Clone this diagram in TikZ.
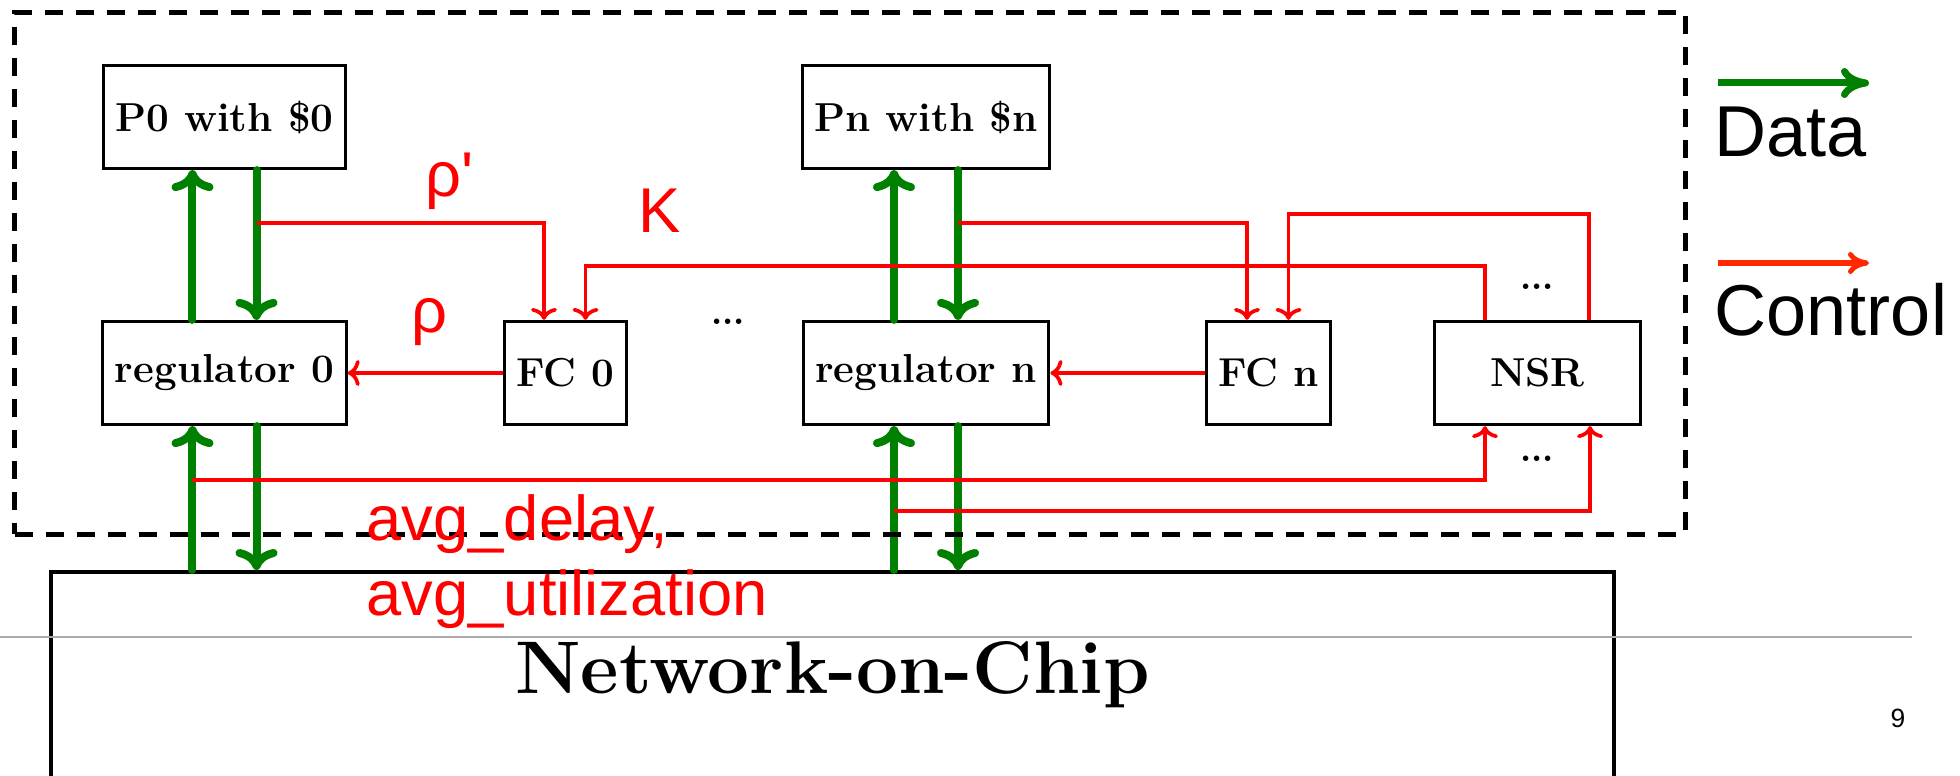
\documentclass[tikz,border=0pt]{standalone}
\usepackage{fontspec}
\usepackage{tikz}
\usetikzlibrary{arrows.meta, positioning, calc}
\newfontfamily\labelfont[Ligatures=TeXOff]{Liberation Sans}
\definecolor{datagreen}{RGB}{0,128,0}
\definecolor{ctrlred}{RGB}{255,0,0}
\definecolor{legred}{RGB}{255,40,0}
\definecolor{footgray}{RGB}{170,170,170}
\tikzset{
  block/.style={rectangle, draw=black, line width=0.9pt, inner xsep=0.12cm,
    minimum height=1.03cm, font=\fontsize{11.5}{13.8}\selectfont\bfseries},
  framebox/.style={rectangle, draw=black, line width=1.35pt,
    dash pattern=on 0.18cm off 0.13cm},
  nocbox/.style={rectangle, draw=black, line width=1.1pt},
  data/.style={-{Computer Modern Rightarrow[length=0.21cm,width=0.42cm]},
    line width=0.08cm, color=datagreen, line cap=round},
  ctrl/.style={-{Computer Modern Rightarrow[length=0.12cm,width=0.26cm]},
    line width=1.05pt, color=ctrlred},
  legdata/.style={-{Computer Modern Rightarrow[length=0.28cm,width=0.3cm]},
    line width=0.07cm, color=datagreen},
  legctrl/.style={-{Computer Modern Rightarrow[length=0.21cm,width=0.22cm]},
    line width=0.05cm, color=legred},
  ctrllabel/.style={text=ctrlred, font=\labelfont\fontsize{18}{21.3}\selectfont,
    inner sep=0pt, anchor=base},
  legtext/.style={font=\labelfont\fontsize{20.5}{24}\selectfont,
    inner sep=0pt, anchor=base west},
  dots/.style={font=\fontsize{10}{12}\selectfont\bfseries, inner sep=0pt, anchor=base}
}

\begin{document}
\begin{tikzpicture}[x=0.01cm, y=-0.01cm]
  \useasboundingbox (0,0) rectangle (1960,776);
  % processors, regulators, controllers
  \node[block] (P0) at (224.5,117) {P0 with \$0};
  \node[block] (Pn) at (926,117) {Pn with \$n};
  \node[block] (reg0) at (224.5,373) {regulator 0};
  \node[block] (regn) at (926,373) {regulator n};
  \node[block] (FC0) at (565.5,373) {FC 0};
  \node[block] (FCn) at (1268.5,373) {FC n};
  \node[block, minimum width=2.06cm] (NSR) at (1537.5,373) {NSR};
  \node[dots] (dotsmid) at (728,324) {...};
  \node[dots] (dotstop) at (1537,290) {...};
  \node[dots] (dotsbot) at (1537,461) {...};

  % network
  \node[nocbox, anchor=north, minimum width=15.62cm, minimum height=3cm] (noc) at (832.5,570) {};
  \node[font=\fontsize{21.2}{25}\selectfont\bfseries, anchor=base, inner sep=0pt] (noclbl) at (832.5,693) {Network-on-Chip};

  % data paths
  \foreach \p/\r in {P0/reg0, Pn/regn} {
    \draw[data] ([xshift=-0.32cm]\r.north) -- ([xshift=-0.32cm]\p.south);
    \draw[data] ([xshift=0.32cm]\p.south) -- ([xshift=0.32cm]\r.north);
    \draw[data] ([xshift=-0.32cm]\r.south |- noc.north) -- ([xshift=-0.32cm]\r.south);
    \draw[data] ([xshift=0.32cm]\r.south) -- ([xshift=0.32cm]\r.south |- noc.north);
  }

  \node[framebox, minimum width=16.7cm, minimum height=5.21cm] (core) at (850,273.5) {};

  % control paths
  \draw[ctrl] ([xshift=0.32cm]P0.south) ++(0,53) -| ([xshift=-0.215cm]FC0.north);
  \draw[ctrl] ([xshift=0.32cm]Pn.south) ++(0,53) -| ([xshift=-0.215cm]FCn.north);
  \draw[ctrl] ([xshift=-0.525cm]NSR.north) -- ++(0,-54) -| ([xshift=0.2cm]FC0.north);
  \draw[ctrl] ([xshift=0.515cm]NSR.north) -- ++(0,-106) -| ([xshift=0.2cm]FCn.north);
  \draw[ctrl] (FC0) -- (reg0);
  \draw[ctrl] (FCn) -- (regn);
  \draw[ctrl] ([xshift=-0.32cm]reg0.south) ++(0,54) -| ([xshift=-0.525cm]NSR.south);
  \draw[ctrl] ([xshift=-0.32cm]regn.south) ++(0,85) -| ([xshift=0.525cm]NSR.south);

  \node[ctrllabel] (rhop) at (450,197) {ρ'};
  \node[ctrllabel] (kay) at (660,232) {K};
  \node[ctrllabel] (rho) at (430,332) {ρ};
  \node[ctrllabel, anchor=base west, align=left] (avg) at (366,615) {avg\_delay,\\avg\_utilization};

  % legend
  \coordinate (dataL) at (1718,83);
  \coordinate (dataR) at (1869,83);
  \draw[legdata] (dataL) -- (dataR);
  \node[legtext] (datalbl) at (1714,157) {Data};
  \coordinate (ctrlL) at (1718,263);
  \coordinate (ctrlR) at (1869,263);
  \draw[legctrl] (ctrlL) -- (ctrlR);
  \node[legtext] (ctrllbl) at (1714,335) {Control};

  % footer
  \draw[footgray, line width=0.45pt] (0,637) -- (1912,637);
  \node[font=\labelfont\fontsize{7.5}{9}\selectfont, anchor=base, inner sep=0pt] (pagenum) at (1898,727) {9};
\end{tikzpicture}
\end{document}
